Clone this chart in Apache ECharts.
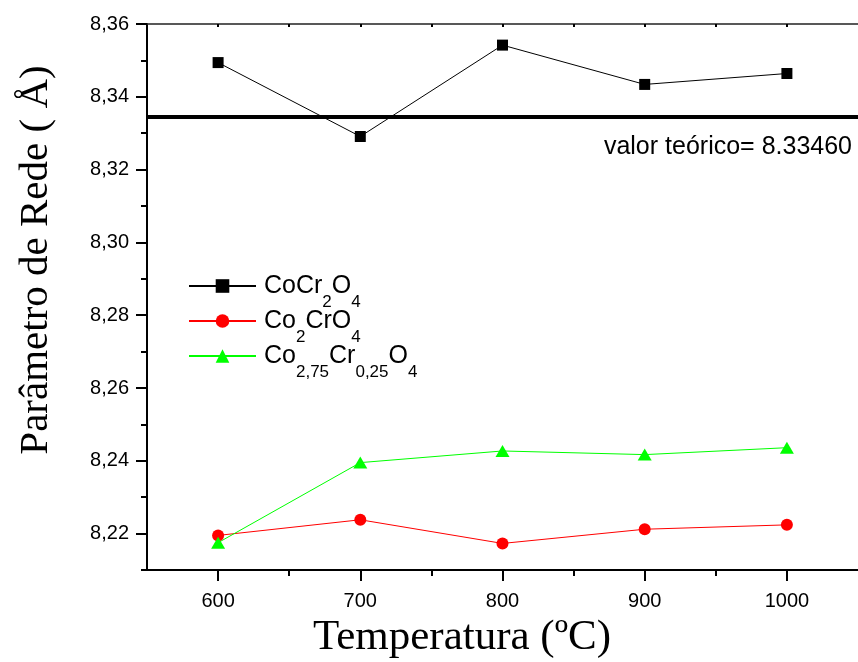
<!DOCTYPE html>
<html>
<head>
<meta charset="utf-8">
<script src="https://cdn.jsdelivr.net/npm/echarts@6/dist/echarts.min.js"></script>
<style>
  html, body { margin: 0; padding: 0; background: #fff; }
  #chart { width: 858px; height: 662px; }
</style>
</head>
<body>
<div id="chart"></div>
<script>
// Temperatures of calcination (ºC)
const temperatures = [600, 700, 800, 900, 1000];

// Lattice parameter (Å) per composition
const cocr2o4 = [8.3494, 8.3291, 8.3542, 8.3434, 8.3464];
const co2cro4 = [8.2195, 8.2238, 8.2173, 8.2212, 8.2224];
const co275cr025o4 = [8.2175, 8.2395, 8.2427, 8.2417, 8.2436];

// Theoretical value for CoCr2O4
const theoreticalValue = 8.33460;

// Axis ticks and labels
const xMajorTicks = [600, 700, 800, 900, 1000];
const xMinorTicks = [650, 750, 850, 950];
const xTopTicks = [600, 650, 700, 750, 800, 850, 900, 950, 1000];
const yMajorTicks = [8.22, 8.24, 8.26, 8.28, 8.30, 8.32, 8.34, 8.36];
const yMinorTicks = [8.21, 8.23, 8.25, 8.27, 8.29, 8.31, 8.33, 8.35];

// Legend names with chemical subscripts
const seriesNames = ['CoCr2O4', 'Co2CrO4', 'Co2,75Cr0,25O4'];
const legendRich = {
  'CoCr2O4': '{n|CoCr}{s|2}{n|O}{s|4}',
  'Co2CrO4': '{n|Co}{s|2}{n|CrO}{s|4}',
  'Co2,75Cr0,25O4': '{n|Co}{s|2,75}{n|Cr}{s|0,25}{n|O}{s|4}'
};

const SANS = '"Liberation Sans", Arial, sans-serif';
const SERIF = '"Liberation Serif", "Times New Roman", serif';

const chart = echarts.init(document.getElementById('chart'), null, { renderer: 'canvas' });

function pairs(ys) {
  return temperatures.map((t, i) => [t, ys[i]]);
}

const option = {
  animation: false,
  backgroundColor: '#ffffff',
  grid: { left: 147, top: 24, right: 0, bottom: 92, containLabel: false },
  legend: {
    orient: 'vertical',
    left: 188,
    top: 271,
    padding: 0,
    itemGap: -9,
    itemWidth: 67,
    itemHeight: 17,
    data: seriesNames,
    formatter: name => legendRich[name],
    textStyle: {
      color: '#000',
      fontFamily: SANS,
      padding: [0, 0, 0, 3],
      rich: {
        n: { fontSize: 25, fontFamily: SANS, color: '#000', lineHeight: 30 },
        s: { fontSize: 17, fontFamily: SANS, color: '#000', lineHeight: 17, verticalAlign: 'top', padding: [23, 0, 4, 0] }
      }
    }
  },
  xAxis: [
    {
      type: 'value', position: 'bottom', min: 550, max: 1050,
      axisLine: { show: true, onZero: false, lineStyle: { color: '#000', width: 2 } },
      axisTick: { show: true, customValues: xMajorTicks, length: 11, lineStyle: { color: '#000', width: 2 } },
      axisLabel: {
        customValues: xMajorTicks, fontSize: 20, fontFamily: SANS, color: '#000', margin: 21,
        formatter: v => String(v)
      },
      splitLine: { show: false }
    },
    {
      type: 'value', position: 'bottom', min: 550, max: 1050,
      axisLine: { show: false, onZero: false },
      axisTick: { show: true, customValues: xMinorTicks, length: 6, lineStyle: { color: '#000', width: 2 } },
      axisLabel: { show: false },
      splitLine: { show: false }
    },
    {
      type: 'value', position: 'top', min: 550, max: 1050,
      axisLine: { show: true, onZero: false, lineStyle: { color: '#222', width: 1.5 } },
      axisTick: { show: true, inside: true, customValues: xTopTicks, length: 3, lineStyle: { color: '#000', width: 2 } },
      axisLabel: { show: false },
      splitLine: { show: false }
    }
  ],
  yAxis: [
    {
      type: 'value', position: 'left', min: 8.21, max: 8.36,
      axisLine: { show: true, onZero: false, lineStyle: { color: '#000', width: 2 } },
      axisTick: { show: true, customValues: yMajorTicks, length: 11, lineStyle: { color: '#000', width: 2 } },
      axisLabel: {
        customValues: yMajorTicks, fontSize: 20, fontFamily: SANS, color: '#000', margin: 18,
        formatter: v => v.toFixed(2).replace('.', ',')
      },
      splitLine: { show: false }
    },
    {
      type: 'value', position: 'left', min: 8.21, max: 8.36,
      axisLine: { show: false, onZero: false },
      axisTick: { show: true, customValues: yMinorTicks, length: 6, lineStyle: { color: '#000', width: 2 } },
      axisLabel: { show: false },
      splitLine: { show: false }
    }
  ],
  series: [
    {
      name: seriesNames[0], type: 'line', xAxisIndex: 0, yAxisIndex: 0,
      data: pairs(cocr2o4),
      symbol: 'rect', symbolSize: 11,
      itemStyle: { color: '#000' },
      lineStyle: { color: '#000', width: 1 },
      markLine: {
        silent: true,
        precision: 5,
        symbol: ['none', 'none'],
        lineStyle: { color: '#000', width: 4, type: 'solid' },
        label: {
          show: true,
          position: 'insideEndBottom',
          distance: [6, 18],
          formatter: 'valor teórico= ' + theoreticalValue.toFixed(5),
          fontSize: 25, fontFamily: SANS, color: '#000'
        },
        data: [{ yAxis: theoreticalValue }]
      },
      z: 3
    },
    {
      name: seriesNames[1], type: 'line', xAxisIndex: 0, yAxisIndex: 0,
      data: pairs(co2cro4),
      symbol: 'circle', symbolSize: 12,
      itemStyle: { color: '#ff0000' },
      lineStyle: { color: '#ff0000', width: 1 },
      z: 2
    },
    {
      name: seriesNames[2], type: 'line', xAxisIndex: 0, yAxisIndex: 0,
      data: pairs(co275cr025o4),
      symbol: 'triangle', symbolSize: [14, 12],
      itemStyle: { color: '#00ff00' },
      lineStyle: { color: '#00ff00', width: 1 },
      z: 2
    }
  ],
  graphic: [
    {
      type: 'text', x: 462, y: 638,
      style: {
        text: 'Temperatura (ºC)', font: '43px ' + SERIF, fill: '#000',
        textAlign: 'center', textVerticalAlign: 'middle'
      }
    },
    {
      type: 'text', x: 36, y: 260, rotation: Math.PI / 2,
      style: {
        text: 'Parâmetro de Rede ( Å)', font: '41px ' + SERIF, fill: '#000',
        textAlign: 'center', textVerticalAlign: 'middle'
      }
    }
  ]
};

chart.setOption(option);
</script>
</body>
</html>
